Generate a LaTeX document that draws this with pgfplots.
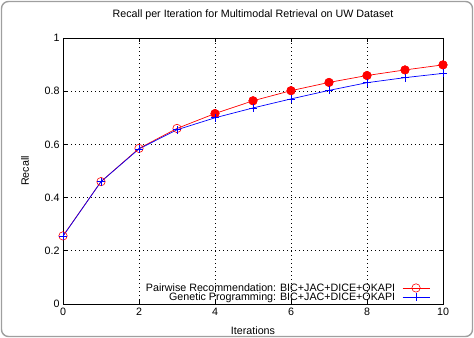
\documentclass[border=0pt]{standalone}
\usepackage{pgfplots}
\pgfplotsset{compat=1.18}
\usepackage{fontspec}
\setmainfont{Liberation Sans}

% Recall values per feedback iteration
\pgfplotstableread{
it  pw     gp
0   0.256  0.255
1   0.460  0.460
2   0.585  0.583
3   0.660  0.655
4   0.716  0.700
5   0.764  0.737
6   0.802  0.771
7   0.833  0.803
8   0.859  0.832
9   0.880  0.851
10  0.899  0.867
}\recall

\begin{document}
\begin{tikzpicture}
\useasboundingbox (0,0) rectangle (474bp,338bp);
\draw[gray!75, line width=1.4bp, rounded corners=7bp] (1.5bp,1.5bp) rectangle (472.5bp,336.5bp);
\begin{axis}[
  at={(63bp,34bp)}, anchor=south west,
  scale only axis, width=380bp, height=266bp,
  xmin=0, xmax=10, ymin=0, ymax=1,
  xtick={0,2,...,10}, ytick={0,0.2,...,1},
  yticklabel style={/pgf/number format/fixed},
  /pgf/number format/assume math mode=true,
  tick align=inside, tick style={black, line width=0.6bp},
  major tick length=4bp,
  grid=major,
  major grid style={black, line width=0.8bp, dash pattern=on 1.3bp off 2.7bp},
  axis line style={black, line width=0.8bp},
  font=\fontsize{10.7bp}{12bp}\selectfont,
  ticklabel style={font=\fontsize{10.7bp}{12bp}\selectfont},
  xticklabel style={yshift=-1bp},
  title={Recall per Iteration for Multimodal Retrieval on UW Dataset},
  title style={at={(axis description cs:0.5,1.064)}, anchor=center},
  xlabel={Iterations},
  ylabel={Recall},
  xlabel style={at={(axis description cs:0.5,-0.1015)}, anchor=center},
  ylabel style={at={(axis description cs:-0.1,0.5)}, anchor=center},
  legend style={draw=none, fill=none, inner sep=0pt,
    at={(axis description cs:0.966,0.0)}, anchor=south east,
    font=\fontsize{10.7bp}{12bp}\selectfont, row sep=-4bp, column sep=5bp},
  legend cell align=right,
  legend plot pos=right,
  legend image code/.code={
    \draw[mark repeat=2, mark phase=2, #1]
      plot coordinates {(0bp,0bp) (13.5bp,0bp) (27bp,0bp)};},
]
\addplot[red, line width=0.7bp, mark=o, mark size=4.2bp, mark options={line width=0.6bp}]
  table[x=it, y=pw] {\recall};
\addlegendentry{Pairwise Recommendation: BIC+JAC+DICE+OKAPI}
\addplot[blue, line width=0.7bp, mark=+, mark size=4bp, mark options={line width=0.8bp}]
  table[x=it, y=gp] {\recall};
\addlegendentry{Genetic Programming: BIC+JAC+DICE+OKAPI}
% later iterations drawn with solid markers
\addplot[red, only marks, mark=*, mark size=4.2bp, forget plot]
  table[x=it, y=pw, restrict x to domain=4:10] {\recall};
\addplot[blue, only marks, mark=+, mark size=4bp, mark options={line width=0.8bp}, forget plot]
  table[x=it, y=gp, restrict x to domain=4:10] {\recall};
\end{axis}
\end{tikzpicture}
\end{document}
